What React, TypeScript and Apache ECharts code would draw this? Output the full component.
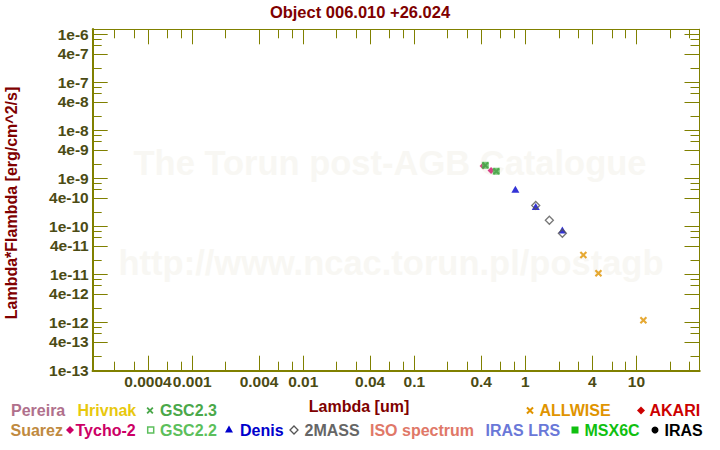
import React, { useEffect, useRef } from 'react';
import * as echarts from 'echarts';

const titleText = 'Object 006.010 +26.024';
const xName = 'Lambda [um]';
const yName = 'Lambda*Flambda [erg/cm^2/s]';
const watermark1 = 'The Torun post-AGB Catalogue';
const watermark2 = 'http://www.ncac.torun.pl/postagb';

const xMin = 1.27e-4;
const xMax = 37;
const yMin = 0.998e-13;
const yMax = 1.296e-6;

const xMajorTicks = [0.0004, 0.001, 0.004, 0.01, 0.04, 0.1, 0.4, 1, 4, 10];
const xMajorLabels = ['0.0004', '0.001', '0.004', '0.01', '0.04', '0.1', '0.4', '1', '4', '10'];
const xMinorTicks = [0.0002, 0.0003, 0.0006, 0.0008, 0.002, 0.006, 0.008, 0.02, 0.03, 0.06, 0.08, 0.2, 0.3, 0.6, 0.8, 2, 3, 6, 8, 20, 30];

const yMajorTicks = [1e-6, 4e-7, 1e-7, 4e-8, 1e-8, 4e-9, 1e-9, 4e-10, 1e-10, 4e-11, 1e-11, 4e-12, 1e-12, 4e-13, 1e-13];
const yMajorLabels = ['1e-6', '4e-7', '1e-7', '4e-8', '1e-8', '4e-9', '1e-9', '4e-10', '1e-10', '4e-11', '1e-11', '4e-12', '1e-12', '4e-13', '1e-13'];
const yMinorTicks = [
  8e-7, 6e-7, 2e-7, 8e-8, 6e-8, 2e-8, 8e-9, 6e-9, 2e-9, 8e-10, 6e-10, 2e-10,
  8e-11, 6e-11, 2e-11, 8e-12, 6e-12, 2e-12, 8e-13, 6e-13, 2e-13,
];

// [wavelength um, lambda*F_lambda]
const tycho2 = [[0.416, 1.84e-9], [0.491, 1.48e-9]];
const gsc22 = [[0.436, 1.9e-9], [0.547, 1.43e-9]];
const gsc23 = [[0.436, 1.9e-9], [0.547, 1.43e-9]];
const denis = [[0.813, 6.0e-10], [1.24, 2.64e-10], [2.154, 8.53e-11]];
const twomass = [[1.24, 2.77e-10], [1.645, 1.36e-10], [2.154, 7.27e-11]];
const allwise = [[3.33, 2.57e-11], [4.55, 1.07e-11], [11.56, 1.12e-12]];

const OLIVE = '#808000';
const LABEL = '#4b4b14';
const DARKRED = '#800000';
const FONT = '"Liberation Sans", Arial, sans-serif';

const X_PATH = 'path://M0,2L2,0L5,3L8,0L10,2L7,5L10,8L8,10L5,7L2,10L0,8L3,5Z';

function lookup(v: number, ticks: number[], labels: string[]) {
  const lv = Math.log10(v);
  let best = -1;
  let bd = 1e9;
  ticks.forEach((t, i) => {
    const d = Math.abs(Math.log10(t) - lv);
    if (d < bd) { bd = d; best = i; }
  });
  return bd < 0.01 ? labels[best] : '';
}

function xPoly(cx: number, cy: number, s: number, t: number) {
  const h = s / 2;
  const a = t / 2;
  return [
    [cx - h, cy - h + a], [cx - h + a, cy - h], [cx, cy - a], [cx + h - a, cy - h], [cx + h, cy - h + a],
    [cx + a, cy], [cx + h, cy + h - a], [cx + h - a, cy + h], [cx, cy + a], [cx - h + a, cy + h],
    [cx - h, cy + h - a], [cx - a, cy],
  ];
}

function legendText(x: number, y: number, text: string, color: string) {
  return {
    type: 'text', x, y, z: 10,
    style: { text, fill: color, font: `bold 16px ${FONT}`, textAlign: 'left', textVerticalAlign: 'middle' },
  };
}

export default function App() {
  const ref = useRef<HTMLDivElement>(null);
  useEffect(() => {
    if (!ref.current) return;
    const chart = echarts.init(ref.current, null, { renderer: 'svg' });

    const makeX = (pos: 'bottom' | 'top', major: boolean) => ({
      type: 'log', logBase: 10, min: xMin, max: xMax, position: pos, gridIndex: 0,
      axisLine: { show: true, onZero: false, lineStyle: { color: OLIVE, width: pos === 'bottom' ? 2 : 1 } },
      axisTick: { show: true, inside: true, length: major ? 15 : 9, customValues: major ? xMajorTicks : xMinorTicks, lineStyle: { color: OLIVE, width: 1 } },
      axisLabel: pos === 'bottom' && major
        ? {
            show: true, customValues: xMajorTicks, margin: 3, color: LABEL, fontSize: 15.5, fontWeight: 'bold', fontFamily: FONT,
            formatter: (v: number) => lookup(v, xMajorTicks, xMajorLabels),
          }
        : { show: false },
      splitLine: { show: false },
      minorTick: { show: false },
    });
    const makeY = (pos: 'left' | 'right', major: boolean) => ({
      type: 'log', logBase: 10, min: yMin, max: yMax, position: pos, gridIndex: 0,
      axisLine: { show: true, onZero: false, lineStyle: { color: OLIVE, width: pos === 'left' ? 2 : 1 } },
      axisTick: { show: true, inside: true, length: major ? 15 : 9, customValues: major ? yMajorTicks : yMinorTicks, lineStyle: { color: OLIVE, width: 1 } },
      axisLabel: pos === 'left' && major
        ? {
            show: true, customValues: yMajorTicks, margin: 4, color: LABEL, fontSize: 15.5, fontWeight: 'bold', fontFamily: FONT,
            formatter: (v: number) => lookup(v, yMajorTicks, yMajorLabels),
          }
        : { show: false },
      splitLine: { show: false },
      minorTick: { show: false },
    });

    const sc = (name: string, data: number[][], symbol: string, size: any, itemStyle: any) => ({
      name, type: 'scatter', data, symbol, symbolSize: size, itemStyle, xAxisIndex: 0, yAxisIndex: 0, z: 5,
    });

    const graphic: any[] = [
      { type: 'text', x: 390, y: 162.5, z: 0, silent: true, style: { text: watermark1, fill: '#f8f7f3', font: `bold 34.5px ${FONT}`, textAlign: 'center', textVerticalAlign: 'middle' } },
      { type: 'text', x: 391, y: 262.5, z: 0, silent: true, style: { text: watermark2, fill: '#f8f7f3', font: `bold 34.5px ${FONT}`, textAlign: 'center', textVerticalAlign: 'middle' } },
      { type: 'text', x: 360, y: 11.5, z: 10, style: { text: titleText, fill: DARKRED, font: `bold 16.5px ${FONT}`, textAlign: 'center', textVerticalAlign: 'middle' } },
      { type: 'text', x: 359, y: 406, z: 10, style: { text: xName, fill: DARKRED, font: `bold 16px ${FONT}`, textAlign: 'center', textVerticalAlign: 'middle' } },
      { type: 'text', x: 11, y: 203, rotation: Math.PI / 2, z: 10, style: { text: yName, fill: DARKRED, font: `bold 16px ${FONT}`, textAlign: 'center', textVerticalAlign: 'middle' } },
      // legend row 1
      legendText(11, 410.5, 'Pereira', '#b0708c'),
      legendText(77.5, 410.5, 'Hrivnak', '#e8c80e'),
      { type: 'polygon', z: 10, shape: { points: xPoly(150, 410.5, 7, 2.6) }, style: { fill: '#4aa84a' } },
      legendText(160, 410.5, 'GSC2.3', '#4aa84a'),
      { type: 'polygon', z: 10, shape: { points: xPoly(530, 410.5, 7.5, 2.8) }, style: { fill: '#e09400' } },
      legendText(539.5, 410.5, 'ALLWISE', '#e09400'),
      { type: 'polygon', z: 10, shape: { points: [[641, 406.5], [645, 410.5], [641, 414.5], [637, 410.5]] }, style: { fill: '#cc0000' } },
      legendText(649.5, 410.5, 'AKARI', '#cc0000'),
      // legend row 2
      legendText(10.5, 430, 'Suarez', '#c08a40'),
      { type: 'polygon', z: 10, shape: { points: [[70, 426], [74, 430], [70, 434], [66, 430]] }, style: { fill: '#cc0066' } },
      legendText(75.5, 430, 'Tycho-2', '#cc0066'),
      { type: 'rect', z: 10, shape: { x: 147.7, y: 427, width: 6, height: 6 }, style: { fill: '#fff', stroke: '#5cbf5c', lineWidth: 1.5 } },
      legendText(160, 430, 'GSC2.2', '#5cbf5c'),
      { type: 'polygon', z: 10, shape: { points: [[229, 425.5], [233, 432.5], [225, 432.5]] }, style: { fill: '#0000cc' } },
      legendText(240, 430, 'Denis', '#0000cc'),
      { type: 'polygon', z: 10, shape: { points: [[294, 426], [298, 430], [294, 434], [290, 430]] }, style: { fill: '#fff', stroke: '#555', lineWidth: 1.3 } },
      legendText(304.5, 430, '2MASS', '#666666'),
      legendText(370, 430, 'ISO spectrum', '#e07868'),
      legendText(485.5, 430, 'IRAS LRS', '#6a78d8'),
      { type: 'rect', z: 10, shape: { x: 571.5, y: 426.5, width: 7, height: 7 }, style: { fill: '#10c010' } },
      legendText(584.5, 430, 'MSX6C', '#10c010'),
      { type: 'circle', z: 10, shape: { cx: 655, cy: 430, r: 3.5 }, style: { fill: '#000' } },
      legendText(664.5, 430, 'IRAS', '#000000'),
    ];

    chart.setOption({
      animation: false,
      backgroundColor: '#ffffff',
      grid: { left: 92.7, right: 20.5, top: 29.3, bottom: 79.3, containLabel: false },
      xAxis: [makeX('bottom', true), makeX('bottom', false), makeX('top', true), makeX('top', false)],
      yAxis: [makeY('left', true), makeY('left', false), makeY('right', true), makeY('right', false)],
      graphic,
      series: [
        sc('Tycho-2', tycho2, 'diamond', 7, { color: '#d0106a' }),
        sc('GSC2.2', gsc22, 'rect', 7, { color: '#5cbf5c' }),
        sc('GSC2.3', gsc23, X_PATH, 7, { color: '#469f46' }),
        sc('Denis', denis, 'triangle', [8, 7], { color: '#0000cc' }),
        sc('2MASS', twomass, 'diamond', 8, { color: 'rgba(0,0,0,0)', borderColor: '#555', borderWidth: 1.3 }),
        sc('ALLWISE', allwise, X_PATH, 7.5, { color: '#e09400' }),
      ],
    });
    return () => chart.dispose();
  }, []);
  return <div ref={ref} style={{ position: 'absolute', left: 0, top: 0, width: 720, height: 450 }} />;
}
